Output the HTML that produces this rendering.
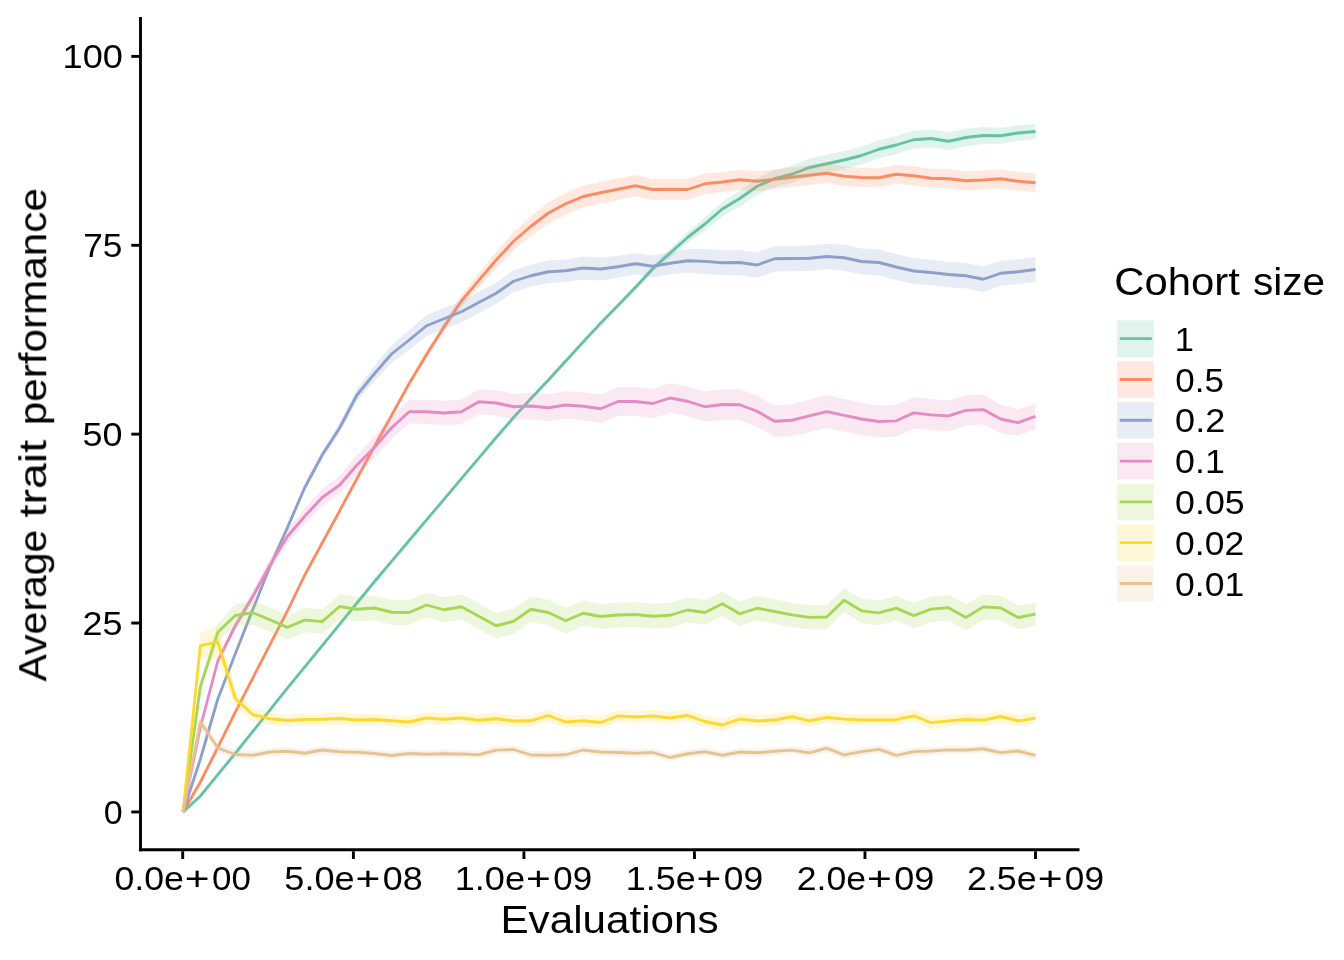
<!DOCTYPE html>
<html lang="en">
<head>
<meta charset="utf-8">
<title>Average trait performance by cohort size</title>
<style>
html,body{margin:0;padding:0;background:#fff;}
body{width:1344px;height:960px;overflow:hidden;}
svg{display:block;}
text{font-family:"Liberation Sans",sans-serif;fill:#000;}
.tick{font-size:33px;}
.title{font-size:38px;}
.axis{stroke:#000;stroke-width:2.9;fill:none;stroke-linecap:butt;}
.ln{fill:none;stroke-width:2.85;stroke-linejoin:round;stroke-linecap:butt;}
.rb{stroke:none;fill-opacity:0.2;}
</style>
</head>
<body>
<svg width="1344" height="960" viewBox="0 0 1344 960">
<rect x="0" y="0" width="1344" height="960" fill="#ffffff"/>
<g id="lines">
<polyline class="ln" stroke="#66C2A5" points="183,811.95 200.4,796 217.8,774.7 235.19,753.5 252.59,731.7 269.99,709.9 287.39,688.1 304.79,666.9 322.18,645.6 339.58,624.3 356.98,603 374.38,581.75 391.78,561.1 409.17,540.5 426.57,519.9 443.97,499.3 461.37,478.7 478.77,458.1 496.16,437.5 513.56,417.5 530.96,398.5 548.36,380 565.76,361 583.15,342 600.55,323.25 617.95,305.5 635.35,287.5 652.74,268.75 670.14,253 687.54,237.5 704.94,224 722.34,209 739.73,198.5 757.13,186.25 774.53,178.75 791.93,174.25 809.33,167.5 826.72,163.75 844.12,160 861.52,155.5 878.92,149.25 896.32,145 913.71,139.75 931.11,138.5 948.51,141.25 965.91,137.5 983.31,135.5 1000.7,135.75 1018.1,133 1035.5,131.5"/>
<polyline class="ln" stroke="#FC8D62" points="183,811.95 200.4,782 217.8,747.5 235.19,712.3 252.59,678.3 269.99,644.6 287.39,611 304.79,575 322.18,543 339.58,511 356.98,478.5 374.38,446.5 391.78,415 409.17,383.5 426.57,354.5 443.97,327 461.37,301 478.77,280.3 496.16,260 513.56,241.25 530.96,226.25 548.36,213 565.76,203.75 583.15,196.5 600.55,192.75 617.95,189.25 635.35,185.75 652.74,189.5 670.14,189.25 687.54,189.5 704.94,183.75 722.34,182 739.73,179.75 757.13,181.25 774.53,179.25 791.93,177.25 809.33,175.25 826.72,173.25 844.12,176.25 861.52,177.5 878.92,177.75 896.32,174.25 913.71,175.75 931.11,178.25 948.51,178.75 965.91,180.75 983.31,180 1000.7,178.75 1018.1,181.25 1035.5,182.75"/>
<polyline class="ln" stroke="#8DA0CB" points="183,811.95 200.4,759 217.8,699 235.19,654 252.59,610 269.99,566.5 287.39,527.7 304.79,487.5 322.18,455 339.58,428 356.98,395 374.38,373.75 391.78,353.75 409.17,340 426.57,325.75 443.97,318.75 461.37,311.75 478.77,302.5 496.16,293.25 513.56,281.25 530.96,275.75 548.36,271.75 565.76,270.75 583.15,268 600.55,269 617.95,266.75 635.35,263.75 652.74,266.25 670.14,263.25 687.54,260.75 704.94,261.4 722.34,262.75 739.73,262.5 757.13,265 774.53,258.75 791.93,258.5 809.33,258.25 826.72,256.5 844.12,257.75 861.52,261.5 878.92,262.5 896.32,267 913.71,271 931.11,272.5 948.51,274.5 965.91,275.75 983.31,279.25 1000.7,273.25 1018.1,271.75 1035.5,269.5"/>
<polyline class="ln" stroke="#E78AC3" points="183,811.95 200.4,727 217.8,661 235.19,626 252.59,596.8 269.99,565 287.39,536.5 304.79,516.25 322.18,497.5 339.58,485 356.98,465 374.38,447.5 391.78,427.5 409.17,411.75 426.57,411.75 443.97,413 461.37,411.75 478.77,401.75 496.16,403 513.56,406.75 530.96,406 548.36,407.75 565.76,405 583.15,406.25 600.55,408.75 617.95,401.5 635.35,401.5 652.74,403.5 670.14,398 687.54,401.25 704.94,406.75 722.34,404.5 739.73,404.75 757.13,411.25 774.53,421.25 791.93,420.25 809.33,415.9 826.72,411.6 844.12,415.4 861.52,419 878.92,421.5 896.32,420.8 913.71,412.9 931.11,414.8 948.51,415.8 965.91,410.4 983.31,409.6 1000.7,419 1018.1,422.7 1035.5,416.25"/>
<polyline class="ln" stroke="#A6D854" points="183,811.95 200.4,686.5 217.8,632.2 235.19,615.5 252.59,612.7 269.99,619.8 287.39,627.4 304.79,620 322.18,621.6 339.58,606.5 356.98,609.25 374.38,608 391.78,612.25 409.17,612.5 426.57,605 443.97,609.75 461.37,606.75 478.77,616.25 496.16,625.75 513.56,621.25 530.96,609.25 548.36,612.5 565.76,620.75 583.15,613.25 600.55,616.5 617.95,615 635.35,614.5 652.74,616.25 670.14,615.25 687.54,610 704.94,612.5 722.34,603.75 739.73,613.75 757.13,608.25 774.53,611.5 791.93,614.9 809.33,617.4 826.72,617 844.12,600.2 861.52,610.8 878.92,612.9 896.32,608.1 913.71,615.6 931.11,609.2 948.51,607.7 965.91,617.5 983.31,606.9 1000.7,607.9 1018.1,617.5 1035.5,614.2"/>
<polyline class="ln" stroke="#FFD92F" points="183,811.95 200.4,645.7 217.8,642 235.19,698.4 252.59,714.5 269.99,718.75 287.39,720.5 304.79,719.5 322.18,719.25 339.58,718.5 356.98,720 374.38,719.5 391.78,720.75 409.17,722 426.57,718 443.97,719.25 461.37,718 478.77,720.25 496.16,718.75 513.56,721 530.96,720.75 548.36,715.5 565.76,722 583.15,720.75 600.55,722.5 617.95,716 635.35,717 652.74,716 670.14,718 687.54,715.5 704.94,721.5 722.34,725 739.73,719 757.13,721 774.53,720 791.93,716.75 809.33,720.8 826.72,717.5 844.12,719.2 861.52,720 878.92,720 896.32,719.6 913.71,715.8 931.11,722.7 948.51,720.8 965.91,719.4 983.31,720.2 1000.7,716.5 1018.1,720.8 1035.5,718.1"/>
<polyline class="ln" stroke="#E5C494" points="183,811.95 200.4,721.75 217.8,748 235.19,754.5 252.59,755.25 269.99,752 287.39,751.25 304.79,753.25 322.18,750 339.58,751.75 356.98,752.25 374.38,753.5 391.78,755.5 409.17,753.5 426.57,754.25 443.97,753.75 461.37,754 478.77,754.75 496.16,750.1 513.56,749.5 530.96,755 548.36,755.25 565.76,754.75 583.15,750 600.55,752 617.95,752.5 635.35,753.25 652.74,752.5 670.14,757.5 687.54,753.75 704.94,751.75 722.34,755.25 739.73,752 757.13,752.75 774.53,751.25 791.93,750.1 809.33,752.8 826.72,748.2 844.12,755 861.52,751.7 878.92,749.4 896.32,755.4 913.71,751.7 931.11,751 948.51,749.8 965.91,750 983.31,748.75 1000.7,752.7 1018.1,751 1035.5,755.4"/>
</g>
<g id="ribbons">
<polygon class="rb" fill="#66C2A5" points="183,811.95 200.4,794.8 217.8,773.48 235.19,752.27 252.59,730.45 269.99,708.63 287.39,686.81 304.79,665.6 322.18,644.28 339.58,622.96 356.98,601.64 374.38,580.38 391.78,559.71 409.17,539.09 426.57,518.47 443.97,497.86 461.37,477.24 478.77,456.62 496.16,436 513.56,415.99 530.96,396.97 548.36,378.45 565.76,359.43 583.15,340.42 600.55,321.65 617.95,303.45 635.35,285 652.74,265.25 670.14,248.5 687.54,232 704.94,217.5 722.34,201.75 739.73,190.5 757.13,178 774.53,170.25 791.93,165.5 809.33,158.5 826.72,154.75 844.12,151 861.52,146.5 878.92,140.25 896.32,136 913.71,130.75 931.11,129.5 948.51,132.25 965.91,128.8 983.31,127.1 1000.7,127.65 1018.1,125.2 1035.5,124 1035.5,139 1018.1,140.8 1000.7,143.85 983.31,143.9 965.91,146.2 948.51,150.25 931.11,147.5 913.71,148.75 896.32,154 878.92,158.25 861.52,164.5 844.12,169 826.72,172.75 809.33,176.5 791.93,183 774.53,187.25 757.13,194.5 739.73,206.5 722.34,216.25 704.94,230.5 687.54,243 670.14,257.5 652.74,272.25 635.35,290 617.95,307.55 600.55,324.85 583.15,343.58 565.76,362.57 548.36,381.55 530.96,400.03 513.56,419.01 496.16,439 478.77,459.58 461.37,480.16 443.97,500.74 426.57,521.33 409.17,541.91 391.78,562.49 374.38,583.12 356.98,604.36 339.58,625.64 322.18,646.92 304.79,668.2 287.39,689.39 269.99,711.17 252.59,732.95 235.19,754.73 217.8,775.92 200.4,797.2 183,811.95"/>
<polygon class="rb" fill="#FC8D62" points="183,811.95 200.4,781 217.8,746.48 235.19,711.26 252.59,677.23 269.99,643.51 287.39,609.89 304.79,573.87 322.18,541.84 339.58,509.82 356.98,477.3 374.38,444.9 391.78,413 409.17,380.75 426.57,351 443.97,322.25 461.37,295 478.77,273.3 496.16,252 513.56,232.25 530.96,216.25 548.36,202.5 565.76,192.75 583.15,185.5 600.55,181.75 617.95,178.38 635.35,175 652.74,178.88 670.14,178.75 687.54,179.12 704.94,173.5 722.34,171.88 739.73,169.75 757.13,171.31 774.53,169.38 791.93,167.44 809.33,165.5 826.72,163.56 844.12,166.62 861.52,167.94 878.92,168.25 896.32,164.75 913.71,166.25 931.11,168.75 948.51,169.25 965.91,171.25 983.31,170.5 1000.7,169.25 1018.1,171.75 1035.5,173.25 1035.5,192.25 1018.1,190.75 1000.7,188.25 983.31,189.5 965.91,190.25 948.51,188.25 931.11,187.75 913.71,185.25 896.32,183.75 878.92,187.25 861.52,187.06 844.12,185.88 826.72,182.94 809.33,185 791.93,187.06 774.53,189.12 757.13,191.19 739.73,189.75 722.34,192.12 704.94,194 687.54,199.88 670.14,199.75 652.74,200.12 635.35,196.5 617.95,200.12 600.55,203.75 583.15,207.5 565.76,214.75 548.36,223.5 530.96,236.25 513.56,250.25 496.16,268 478.77,287.3 461.37,307 443.97,331.75 426.57,358 409.17,386.25 391.78,417 374.38,448.1 356.98,479.7 339.58,512.18 322.18,544.16 304.79,576.13 287.39,612.11 269.99,645.69 252.59,679.37 235.19,713.34 217.8,748.52 200.4,783 183,811.95"/>
<polygon class="rb" fill="#8DA0CB" points="183,811.95 200.4,758 217.8,697.83 235.19,652.67 252.59,608.5 269.99,564.5 287.39,525.2 304.79,484.25 322.18,451 339.58,423 356.98,389 374.38,366.25 391.78,344.75 409.17,330.25 426.57,315.25 443.97,308.17 461.37,301.08 478.77,291.75 496.16,282.42 513.56,270.33 530.96,264.75 548.36,260.62 565.76,259.5 583.15,256.62 600.55,257.5 617.95,255.75 635.35,253.25 652.74,255.5 670.14,252.25 687.54,249 704.94,248.9 722.34,250.2 739.73,249.9 757.13,252.35 774.53,246.05 791.93,245.75 809.33,245.45 826.72,243.65 844.12,244.85 861.52,248.55 878.92,249.5 896.32,254.06 913.71,258.11 931.11,259.67 948.51,261.72 965.91,263.03 983.31,266.58 1000.7,260.64 1018.1,259.19 1035.5,257 1035.5,282 1018.1,284.31 1000.7,285.86 983.31,291.92 965.91,288.47 948.51,287.28 931.11,285.33 913.71,283.89 896.32,279.94 878.92,275.5 861.52,274.45 844.12,270.65 826.72,269.35 809.33,271.05 791.93,271.25 774.53,271.45 757.13,277.65 739.73,275.1 722.34,275.3 704.94,273.9 687.54,272.5 670.14,274.25 652.74,277 635.35,274.25 617.95,277.75 600.55,280.5 583.15,279.38 565.76,282 548.36,282.88 530.96,286.75 513.56,292.17 496.16,304.08 478.77,313.25 461.37,322.42 443.97,329.33 426.57,336.25 409.17,349.75 391.78,362.75 374.38,381.25 356.98,401 339.58,433 322.18,459 304.79,490.75 287.39,530.2 269.99,568.5 252.59,611.5 235.19,655.33 217.8,700.17 200.4,760 183,811.95"/>
<polygon class="rb" fill="#E78AC3" points="183,811.95 200.4,725.5 217.8,658.5 235.19,622 252.59,591.3 269.99,558.75 287.39,529.5 304.79,508.5 322.18,489 339.58,475.75 356.98,455 374.38,436.75 391.78,416 409.17,400 426.57,399.75 443.97,400.81 461.37,399.38 478.77,389.19 496.16,390.25 513.56,393.75 530.96,392.75 548.36,394.25 565.76,391.25 583.15,392.25 600.55,394.5 617.95,387 635.35,386.9 652.74,388.8 670.14,383.2 687.54,386.35 704.94,391.75 722.34,389.29 739.73,389.32 757.13,395.61 774.53,405.39 791.93,404.18 809.33,399.61 826.72,395.1 844.12,399.07 861.52,402.83 878.92,405.5 896.32,404.97 913.71,397.23 931.11,399.3 948.51,400.47 965.91,395.23 983.31,394.6 1000.7,404.83 1018.1,409.37 1035.5,403.75 1035.5,428.75 1018.1,436.03 1000.7,433.17 983.31,424.6 965.91,425.57 948.51,431.13 931.11,430.3 913.71,428.57 896.32,436.63 878.92,437.5 861.52,435.17 844.12,431.73 826.72,428.1 809.33,432.19 791.93,436.32 774.53,437.11 757.13,426.89 739.73,420.18 722.34,419.71 704.94,421.75 687.54,416.15 670.14,412.8 652.74,418.2 635.35,416.1 617.95,416 600.55,423 583.15,420.25 565.76,418.75 548.36,421.25 530.96,419.25 513.56,419.75 496.16,415.75 478.77,414.31 461.37,424.12 443.97,425.19 426.57,423.75 409.17,423.5 391.78,439 374.38,458.25 356.98,475 339.58,494.25 322.18,506 304.79,524 287.39,543.5 269.99,571.25 252.59,602.3 235.19,630 217.8,663.5 200.4,728.5 183,811.95"/>
<polygon class="rb" fill="#A6D854" points="183,811.95 200.4,683.5 217.8,623.2 235.19,604.5 252.59,600.7 269.99,607.75 287.39,615.3 304.79,607.85 322.18,609.4 339.58,594.25 356.98,596.95 374.38,595.65 391.78,599.85 409.17,600.05 426.57,592.5 443.97,597.2 461.37,594.15 478.77,603.6 496.16,613.05 513.56,608.5 530.96,596.45 548.36,599.74 565.76,608.04 583.15,600.58 600.55,603.88 617.95,602.42 635.35,601.97 652.74,603.76 670.14,602.81 687.54,597.6 704.94,600.14 722.34,591.44 739.73,601.48 757.13,596.03 774.53,599.32 791.93,602.77 809.33,605.31 826.72,604.96 844.12,588.2 861.52,598.66 878.92,600.61 896.32,595.67 913.71,603.03 931.11,596.49 948.51,594.84 965.91,604.5 983.31,594.27 1000.7,595.65 1018.1,605.62 1035.5,602.7 1035.5,625.7 1018.1,629.38 1000.7,620.15 983.31,619.52 965.91,630.5 948.51,620.56 931.11,621.91 913.71,628.17 896.32,620.53 878.92,625.19 861.52,622.94 844.12,612.2 826.72,629.04 809.33,629.49 791.93,627.03 774.53,623.68 757.13,620.47 739.73,626.02 722.34,616.06 704.94,624.86 687.54,622.4 670.14,627.69 652.74,628.74 635.35,627.03 617.95,627.58 600.55,629.12 583.15,625.92 565.76,633.46 548.36,625.26 530.96,622.05 513.56,634 496.16,638.45 478.77,628.9 461.37,619.35 443.97,622.3 426.57,617.5 409.17,624.95 391.78,624.65 374.38,620.35 356.98,621.55 339.58,618.75 322.18,633.8 304.79,632.15 287.39,639.5 269.99,631.85 252.59,624.7 235.19,626.5 217.8,641.2 200.4,689.5 183,811.95"/>
<polygon class="rb" fill="#FFD92F" points="183,811.95 200.4,633.2 217.8,625.5 235.19,689.4 252.59,708 269.99,712.45 287.39,714.5 304.79,713.5 322.18,713.25 339.58,712.5 356.98,714 374.38,713.5 391.78,714.75 409.17,716 426.57,712 443.97,713.25 461.37,712 478.77,714.25 496.16,712.75 513.56,715 530.96,714.75 548.36,709.5 565.76,716 583.15,714.75 600.55,716.5 617.95,710 635.35,711 652.74,710 670.14,712 687.54,709.5 704.94,715.5 722.34,719 739.73,713 757.13,715 774.53,714 791.93,710.75 809.33,714.8 826.72,711.5 844.12,713.2 861.52,714 878.92,714 896.32,713.6 913.71,709.8 931.11,716.7 948.51,714.8 965.91,713.4 983.31,714.2 1000.7,710.5 1018.1,714.8 1035.5,712.1 1035.5,724.1 1018.1,726.8 1000.7,722.5 983.31,726.2 965.91,725.4 948.51,726.8 931.11,728.7 913.71,721.8 896.32,725.6 878.92,726 861.52,726 844.12,725.2 826.72,723.5 809.33,726.8 791.93,722.75 774.53,726 757.13,727 739.73,725 722.34,731 704.94,727.5 687.54,721.5 670.14,724 652.74,722 635.35,723 617.95,722 600.55,728.5 583.15,726.75 565.76,728 548.36,721.5 530.96,726.75 513.56,727 496.16,724.75 478.77,726.25 461.37,724 443.97,725.25 426.57,724 409.17,728 391.78,726.75 374.38,725.5 356.98,726 339.58,724.5 322.18,725.25 304.79,725.5 287.39,726.5 269.99,725.05 252.59,721 235.19,707.4 217.8,658.5 200.4,658.2 183,811.95"/>
<polygon class="rb" fill="#E5C494" points="183,811.95 200.4,715.25 217.8,743 235.19,750.5 252.59,751.25 269.99,748 287.39,747.25 304.79,749.25 322.18,746 339.58,747.75 356.98,748.25 374.38,749.5 391.78,751.5 409.17,749.5 426.57,750.25 443.97,749.75 461.37,750 478.77,750.75 496.16,746.1 513.56,745.5 530.96,751 548.36,751.25 565.76,750.75 583.15,746 600.55,748 617.95,748.5 635.35,749.25 652.74,748.5 670.14,753.5 687.54,749.75 704.94,747.75 722.34,751.25 739.73,748 757.13,748.75 774.53,747.25 791.93,746.1 809.33,748.8 826.72,744.2 844.12,751 861.52,747.7 878.92,745.4 896.32,751.4 913.71,747.7 931.11,747 948.51,745.8 965.91,746 983.31,744.75 1000.7,748.7 1018.1,747 1035.5,751.4 1035.5,759.4 1018.1,755 1000.7,756.7 983.31,752.75 965.91,754 948.51,753.8 931.11,755 913.71,755.7 896.32,759.4 878.92,753.4 861.52,755.7 844.12,759 826.72,752.2 809.33,756.8 791.93,754.1 774.53,755.25 757.13,756.75 739.73,756 722.34,759.25 704.94,755.75 687.54,757.75 670.14,761.5 652.74,756.5 635.35,757.25 617.95,756.5 600.55,756 583.15,754 565.76,758.75 548.36,759.25 530.96,759 513.56,753.5 496.16,754.1 478.77,758.75 461.37,758 443.97,757.75 426.57,758.25 409.17,757.5 391.78,759.5 374.38,757.5 356.98,756.25 339.58,755.75 322.18,754 304.79,757.25 287.39,755.25 269.99,756 252.59,759.25 235.19,758.5 217.8,753 200.4,728.25 183,811.95"/>
</g>
<g id="axes">
<line class="axis" x1="140.5" y1="17" x2="140.5" y2="851.25"/>
<line class="axis" x1="139.05" y1="849.8" x2="1079.5" y2="849.8"/>
<line class="axis" x1="131.3" y1="811.95" x2="139.05" y2="811.95"/>
<line class="axis" x1="131.3" y1="623.05" x2="139.05" y2="623.05"/>
<line class="axis" x1="131.3" y1="434.15" x2="139.05" y2="434.15"/>
<line class="axis" x1="131.3" y1="245.3" x2="139.05" y2="245.3"/>
<line class="axis" x1="131.3" y1="56.4" x2="139.05" y2="56.4"/>
<line class="axis" x1="182.7" y1="851.25" x2="182.7" y2="859"/>
<line class="axis" x1="353.4" y1="851.25" x2="353.4" y2="859"/>
<line class="axis" x1="523.9" y1="851.25" x2="523.9" y2="859"/>
<line class="axis" x1="694.45" y1="851.25" x2="694.45" y2="859"/>
<line class="axis" x1="864.95" y1="851.25" x2="864.95" y2="859"/>
<line class="axis" x1="1035.5" y1="851.25" x2="1035.5" y2="859"/>
</g>
<g id="labels" style="filter:grayscale(1)">
<text class="tick" x="103.77" y="823.7" textLength="18.93" lengthAdjust="spacingAndGlyphs">0</text>
<text class="tick" x="82.42" y="634.8" textLength="40.06" lengthAdjust="spacingAndGlyphs">25</text>
<text class="tick" x="82.42" y="445.9" textLength="40.06" lengthAdjust="spacingAndGlyphs">50</text>
<text class="tick" x="83.16" y="257.05" textLength="39.28" lengthAdjust="spacingAndGlyphs">75</text>
<text class="tick" x="62.56" y="68.15" textLength="60.41" lengthAdjust="spacingAndGlyphs">100</text>
<text class="tick" y="890.4"><tspan x="114.42" textLength="69.47" lengthAdjust="spacingAndGlyphs">0.0e</tspan><tspan x="184.88" textLength="24.82" lengthAdjust="spacingAndGlyphs">+</tspan><tspan x="212.09" textLength="38.93" lengthAdjust="spacingAndGlyphs">00</tspan></text>
<text class="tick" y="890.4"><tspan x="284.31" textLength="70.29" lengthAdjust="spacingAndGlyphs">5.0e</tspan><tspan x="355.57" textLength="24.82" lengthAdjust="spacingAndGlyphs">+</tspan><tspan x="382.76" textLength="39.85" lengthAdjust="spacingAndGlyphs">08</tspan></text>
<text class="tick" y="890.4"><tspan x="454.71" textLength="70.39" lengthAdjust="spacingAndGlyphs">1.0e</tspan><tspan x="526.07" textLength="24.82" lengthAdjust="spacingAndGlyphs">+</tspan><tspan x="553.3" textLength="38.72" lengthAdjust="spacingAndGlyphs">09</tspan></text>
<text class="tick" y="890.4"><tspan x="625.74" textLength="69.91" lengthAdjust="spacingAndGlyphs">1.5e</tspan><tspan x="696.62" textLength="24.82" lengthAdjust="spacingAndGlyphs">+</tspan><tspan x="723.83" textLength="39.31" lengthAdjust="spacingAndGlyphs">09</tspan></text>
<text class="tick" y="890.4"><tspan x="796.84" textLength="69.29" lengthAdjust="spacingAndGlyphs">2.0e</tspan><tspan x="867.12" textLength="24.82" lengthAdjust="spacingAndGlyphs">+</tspan><tspan x="894.31" textLength="40.07" lengthAdjust="spacingAndGlyphs">09</tspan></text>
<text class="tick" y="890.4"><tspan x="967.03" textLength="69.66" lengthAdjust="spacingAndGlyphs">2.5e</tspan><tspan x="1037.67" textLength="24.82" lengthAdjust="spacingAndGlyphs">+</tspan><tspan x="1064.89" textLength="39.04" lengthAdjust="spacingAndGlyphs">09</tspan></text>
<text class="title" x="500.42" y="933" textLength="218.21" lengthAdjust="spacingAndGlyphs">Evaluations</text>
<text class="title" transform="translate(46.2,681.5) rotate(-90)" y="0"><tspan x="0" textLength="151.91" lengthAdjust="spacingAndGlyphs">Average</tspan> <tspan x="164.08" textLength="77.56" lengthAdjust="spacingAndGlyphs">trait</tspan> <tspan x="256.16" textLength="237.31" lengthAdjust="spacingAndGlyphs">performance</tspan></text>
<text class="title" y="295"><tspan x="1114.3" textLength="125.47" lengthAdjust="spacingAndGlyphs">Cohort</tspan> <tspan x="1253.03" textLength="72.15" lengthAdjust="spacingAndGlyphs">size</tspan></text>
</g>
<g id="legend-keys">
<rect x="1117.1" y="320.3" width="36.7" height="36.7" fill="#66C2A5" fill-opacity="0.2"/>
<line x1="1119.7" y1="338.65" x2="1151.8" y2="338.65" stroke="#66C2A5" stroke-width="2.85"/>
<rect x="1117.1" y="361.1" width="36.7" height="36.7" fill="#FC8D62" fill-opacity="0.2"/>
<line x1="1119.7" y1="379.45" x2="1151.8" y2="379.45" stroke="#FC8D62" stroke-width="2.85"/>
<rect x="1117.1" y="401.9" width="36.7" height="36.7" fill="#8DA0CB" fill-opacity="0.2"/>
<line x1="1119.7" y1="420.25" x2="1151.8" y2="420.25" stroke="#8DA0CB" stroke-width="2.85"/>
<rect x="1117.1" y="442.7" width="36.7" height="36.7" fill="#E78AC3" fill-opacity="0.2"/>
<line x1="1119.7" y1="461.05" x2="1151.8" y2="461.05" stroke="#E78AC3" stroke-width="2.85"/>
<rect x="1117.1" y="483.5" width="36.7" height="36.7" fill="#A6D854" fill-opacity="0.2"/>
<line x1="1119.7" y1="501.85" x2="1151.8" y2="501.85" stroke="#A6D854" stroke-width="2.85"/>
<rect x="1117.1" y="524.3" width="36.7" height="36.7" fill="#FFD92F" fill-opacity="0.2"/>
<line x1="1119.7" y1="542.65" x2="1151.8" y2="542.65" stroke="#FFD92F" stroke-width="2.85"/>
<rect x="1117.1" y="565.1" width="36.7" height="36.7" fill="#E5C494" fill-opacity="0.2"/>
<line x1="1119.7" y1="583.45" x2="1151.8" y2="583.45" stroke="#E5C494" stroke-width="2.85"/>
</g>
<g id="legend-labels" style="filter:grayscale(1)">
<text class="tick" x="1174.67" y="350.75" textLength="19.15" lengthAdjust="spacingAndGlyphs">1</text>
<text class="tick" x="1175.24" y="391.55" textLength="48.59" lengthAdjust="spacingAndGlyphs">0.5</text>
<text class="tick" x="1175.11" y="432.35" textLength="50.14" lengthAdjust="spacingAndGlyphs">0.2</text>
<text class="tick" x="1175.12" y="473.15" textLength="49.72" lengthAdjust="spacingAndGlyphs">0.1</text>
<text class="tick" x="1175.12" y="513.95" textLength="69.62" lengthAdjust="spacingAndGlyphs">0.05</text>
<text class="tick" x="1175.12" y="554.75" textLength="69.1" lengthAdjust="spacingAndGlyphs">0.02</text>
<text class="tick" x="1175.12" y="595.55" textLength="69.1" lengthAdjust="spacingAndGlyphs">0.01</text>
</g>
</svg>
</body>
</html>
